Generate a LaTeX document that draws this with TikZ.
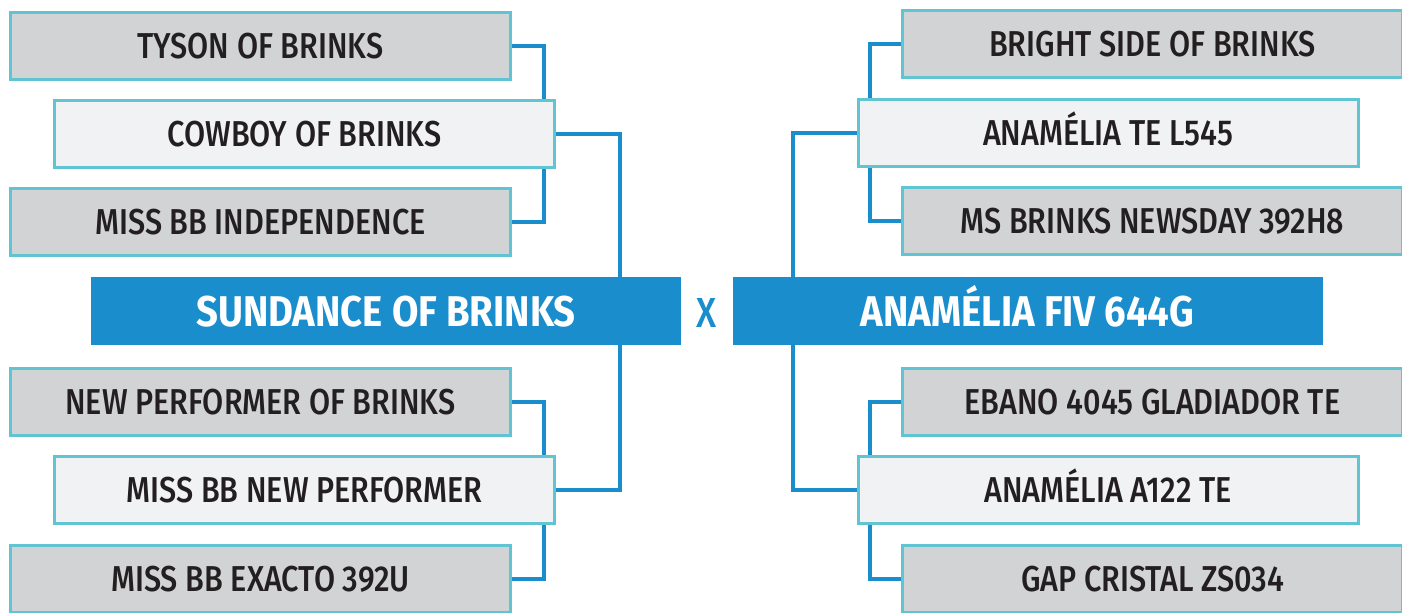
\documentclass[tikz,border=0pt]{standalone}
\usepackage{fontspec}
\setmainfont{Fira Sans Medium}[FakeStretch=0.85]
\newfontfamily\headfont{Fira Sans Bold}[FakeStretch=0.89]
\usepackage{tikz}
\usetikzlibrary{positioning,calc}
\definecolor{pedigreeblue}{RGB}{26,141,205}
\definecolor{bordercyan}{RGB}{96,196,210}
\definecolor{greyfill}{RGB}{209,211,212}
\definecolor{lightfill}{RGB}{241,242,244}
\definecolor{inkdark}{RGB}{35,31,32}

\tikzset{
    grandbox/.style={rectangle, draw=bordercyan, line width=1.5pt, fill=greyfill, minimum width=250pt, minimum height=33.5pt, text height=12.6pt, text depth=0pt, text=inkdark, font=\fontsize{18}{20}\selectfont},
    parentbox/.style={grandbox, fill=lightfill},
    animalbox/.style={rectangle, fill=pedigreeblue, minimum width=295pt, minimum height=34pt, text height=15pt, text depth=0pt, text=white, font=\headfont\fontsize{21.5}{24}\selectfont},
    link/.style={draw=pedigreeblue, line width=2pt}
}

\begin{document}
\begin{tikzpicture}[x=0.5pt, y=-0.5pt]
    \useasboundingbox (0,0) rectangle (1402,612);

    % Sire side
    \node[grandbox] (tyson) at (260.5,45.5) {TYSON OF BRINKS};
    \node[parentbox] (cowboy) at (304.5,134) {COWBOY OF BRINKS};
    \node[grandbox] (independence) at (260.5,222) {MISS BB INDEPENDENCE};
    \node[animalbox] (sundance) at (386,311) {SUNDANCE OF BRINKS};
    \node[grandbox] (newperformer) at (260.5,401.5) {NEW PERFORMER OF BRINKS};
    \node[parentbox] (missperformer) at (304.5,490) {MISS BB NEW PERFORMER};
    \node[grandbox] (exacto) at (260.5,578.5) {MISS BB EXACTO 392U};

    % Cross
    \node[text=pedigreeblue, text height=15pt, text depth=0pt, font=\fontsize{21}{24}\selectfont] (cross) at (707,312) {X};

    % Dam side
    \node[grandbox] (brightside) at (1152.5,44) {BRIGHT SIDE OF BRINKS};
    \node[parentbox] (teL545) at (1108,133) {ANAMÉLIA TE L545};
    \node[grandbox] (newsday) at (1152.5,221) {MS BRINKS NEWSDAY 392H8};
    \node[animalbox] (fiv) at (1027.5,311) {ANAMÉLIA FIV 644G};
    \node[grandbox] (ebano) at (1152.5,401.5) {EBANO 4045 GLADIADOR TE};
    \node[parentbox] (a122) at (1108,490) {ANAMÉLIA A122 TE};
    \node[grandbox] (gapcristal) at (1152.5,578.5) {GAP CRISTAL ZS034};

    % Sire connectors
    \draw[link] (tyson.east) -| ([xshift=-6pt]cowboy.north east);
    \draw[link] (independence.east) -| ([xshift=-6pt]cowboy.south east);
    \draw[link] (newperformer.east) -| ([xshift=-6pt]missperformer.north east);
    \draw[link] (exacto.east) -| ([xshift=-6pt]missperformer.south east);
    \draw[link] (cowboy.east) -| ([xshift=-30.5pt]sundance.north east);
    \draw[link] (missperformer.east) -| ([xshift=-30.5pt]sundance.south east);

    % Dam connectors
    \draw[link] (brightside.west) -| ([xshift=6.5pt]teL545.north west);
    \draw[link] (newsday.west) -| ([xshift=6.5pt]teL545.south west);
    \draw[link] (ebano.west) -| ([xshift=6.5pt]a122.north west);
    \draw[link] (gapcristal.west) -| ([xshift=6.5pt]a122.south west);
    \draw[link] (teL545.west) -| ([xshift=30.5pt]fiv.north west);
    \draw[link] (a122.west) -| ([xshift=30.5pt]fiv.south west);
\end{tikzpicture}
\end{document}
